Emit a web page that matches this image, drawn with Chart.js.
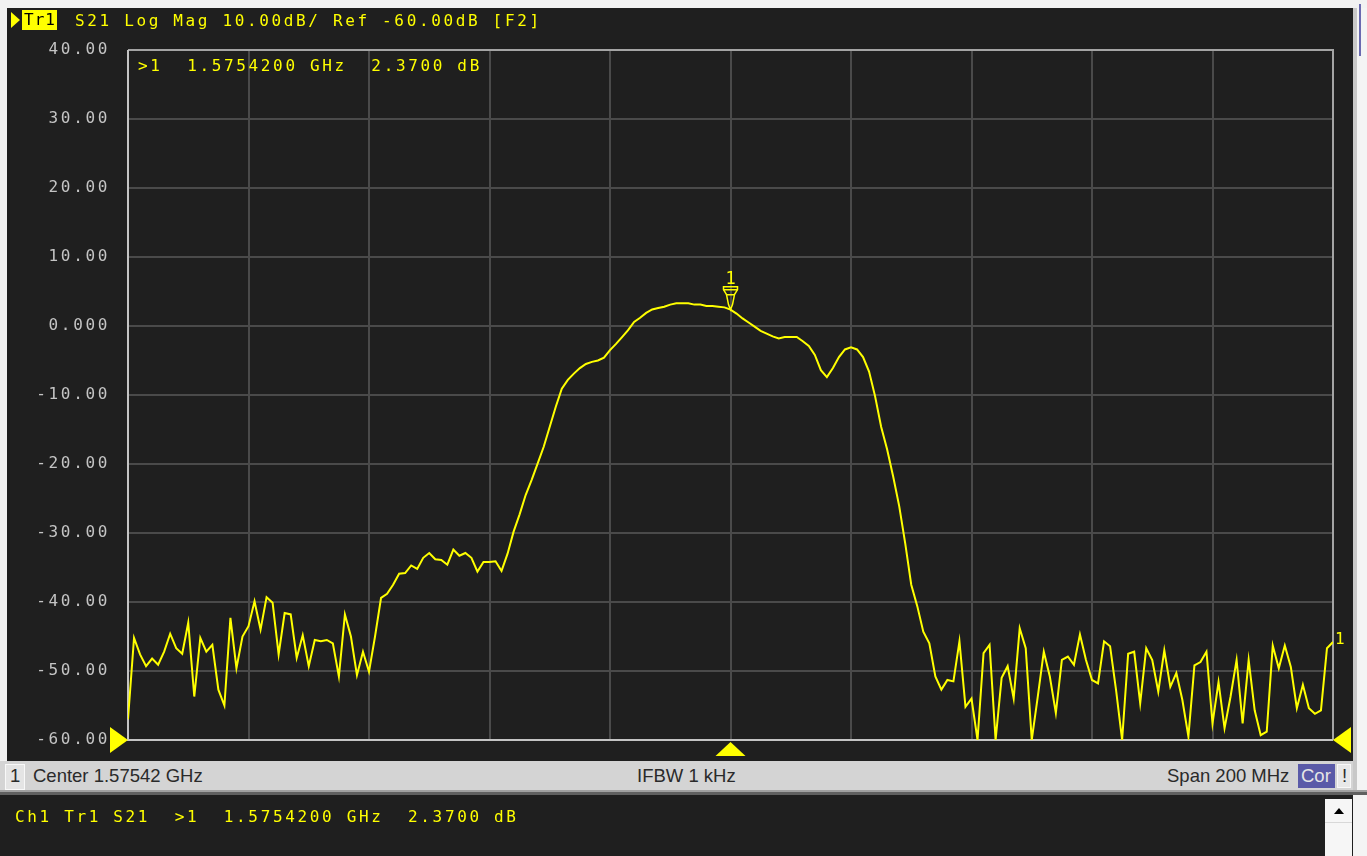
<!DOCTYPE html>
<html>
<head>
<meta charset="utf-8">
<script src="https://cdn.jsdelivr.net/npm/chart.js@4.4.1/dist/chart.umd.min.js"></script>
<style>
  html, body { margin: 0; padding: 0; }
  body { width: 1367px; height: 856px; overflow: hidden; background: #1f1f1f; position: relative; }
  #wrap { position: absolute; left: 0; top: 0; width: 1367px; height: 856px; }
  .mono { font-family: "DejaVu Sans Mono", monospace; font-size: 16px; letter-spacing: 2.65px; color: #ffff00; white-space: pre; position: absolute; line-height: 20px; }
  .sans { font-family: "Liberation Sans", Arial, sans-serif; font-size: 18.5px; color: #2a2a2a; white-space: pre; position: absolute; line-height: 20px; }
</style>
</head>
<body>
<div id="wrap"><canvas id="c" width="1367" height="856"></canvas></div>

<!-- window frame -->
<div style="position:absolute;left:0;top:0;width:1367px;height:8px;background:#f2f2f2;"></div>
<div style="position:absolute;left:0;top:0;width:7px;height:790px;background:#f2f2f2;"></div>
<div style="position:absolute;left:1353px;top:8px;width:14px;height:848px;background:#f4f4f4;"></div>
<div style="position:absolute;left:1353px;top:8px;width:4px;height:785px;background:#c8c8c8;"></div>
<div style="position:absolute;left:1359px;top:4px;width:2px;height:52px;background:#6a6ab0;"></div>

<!-- title bar -->
<div style="position:absolute;left:11px;top:12px;width:0;height:0;border-top:8px solid transparent;border-bottom:8px solid transparent;border-left:9px solid #ffff00;"></div>
<div class="mono" style="left:22px;top:10px;height:20px;background:#ffff00;color:#000;padding:0 1px 0 2px;letter-spacing:1px;">Tr1</div>
<div class="mono" style="left:75px;top:11px;">S21 Log Mag 10.00dB/ Ref -60.00dB [F2]</div>

<!-- marker readout -->
<div class="mono" style="left:138px;top:56px;">>1  1.5754200 GHz  2.3700 dB</div>

<!-- status bar -->
<div style="position:absolute;left:0;top:761px;width:1353px;height:30px;background:#d4d4d4;"></div>
<div style="position:absolute;left:0;top:790px;width:1367px;height:2px;background:#a0a0a0;"></div>
<div style="position:absolute;left:0;top:792px;width:1367px;height:3px;background:#606060;"></div>
<div style="position:absolute;left:5px;top:764px;width:18px;height:24px;background:#e4e4e4;border:1px solid #f8f8f8;"></div>
<div class="sans" style="left:10px;top:766px;">1</div>
<div class="sans" style="left:33px;top:766px;">Center 1.57542 GHz</div>
<div class="sans" style="left:637px;top:766px;">IFBW 1 kHz</div>
<div class="sans" style="left:1167px;top:766px;">Span 200 MHz</div>
<div style="position:absolute;left:1298px;top:764px;width:37px;height:24px;background:#5a5aa8;"></div>
<div class="sans" style="left:1301px;top:766px;color:#e6e6e6;">Cor</div>
<div style="position:absolute;left:1337px;top:764px;width:14px;height:24px;background:#e8e8e8;border:1px solid #f8f8f8;box-sizing:border-box;"></div>
<div class="sans" style="left:1342px;top:766px;">!</div>

<!-- bottom panel -->
<div class="mono" style="left:15px;top:807px;">Ch1 Tr1 S21  >1  1.5754200 GHz  2.3700 dB</div>
<div style="position:absolute;left:1325px;top:799px;width:27px;height:57px;background:#f6f6f6;"></div>
<div style="position:absolute;left:1325px;top:822px;width:27px;height:1px;background:#d8d8d8;"></div>
<div style="position:absolute;left:1334px;top:808px;width:0;height:0;border-left:5px solid transparent;border-right:5px solid transparent;border-bottom:6px solid #000;"></div>

<script>
// ---- sweep definition ----
const startMHz = 1475.42;
const stopMHz = 1675.42;
const pointCount = 201;

// ---- tick labels ----
const yTickValues = [40, 30, 20, 10, 0, -10, -20, -30, -40, -50, -60];
const yTickLabels = ["40.00", "30.00", "20.00", "10.00", "0.000", "-10.00", "-20.00", "-30.00", "-40.00", "-50.00", "-60.00"];

// ---- S21 trace (dB) ----
const s21dB = [
  -57.0, -45.2, -47.6, -49.3, -48.2, -49.1, -47.2, -44.6, -46.7, -47.5,
  -43.0, -53.7, -45.2, -47.2, -46.2, -52.7, -55.0, -42.3, -49.6, -45.0,
  -43.5, -39.9, -44.0, -39.3, -40.1, -47.6, -41.6, -41.8, -48.1, -44.8,
  -49.3, -45.5, -45.7, -45.5, -46.0, -50.8, -41.8, -45.0, -50.6, -47.2,
  -50.1, -45.0, -39.4, -38.8, -37.5, -35.9, -35.8, -34.7, -35.2, -33.6,
  -32.9, -33.8, -33.9, -34.6, -32.4, -33.3, -32.9, -33.6, -35.6, -34.2,
  -34.2, -34.1, -35.5, -33.0, -29.8, -27.3, -24.5, -22.3, -19.9, -17.5,
  -14.6, -11.7, -9.1, -7.8, -6.9, -6.1, -5.5, -5.2, -5.0, -4.6,
  -3.5, -2.6, -1.6, -0.6, 0.6, 1.2, 1.9, 2.4, 2.6, 2.8,
  3.1, 3.3, 3.3, 3.3, 3.1, 3.1, 2.9, 2.9, 2.8, 2.7,
  2.37, 1.8, 1.1, 0.5, -0.1, -0.7, -1.1, -1.5, -1.8, -1.6,
  -1.6, -1.6, -2.2, -2.9, -4.2, -6.4, -7.4, -6.1, -4.5, -3.4,
  -3.1, -3.4, -4.5, -6.6, -10.2, -14.6, -17.9, -21.8, -26.1, -31.5,
  -37.5, -40.6, -44.3, -46.0, -50.8, -52.7, -51.3, -51.5, -45.7, -55.2,
  -54.0, -60.0, -47.4, -46.2, -60.0, -51.0, -49.3, -54.0, -43.8, -46.7,
  -60.0, -53.7, -47.2, -50.8, -56.1, -48.4, -47.9, -49.1, -44.7, -48.4,
  -51.3, -51.8, -45.7, -46.4, -52.8, -60.0, -47.5, -47.2, -54.7, -46.7,
  -48.4, -53.0, -47.0, -52.3, -50.3, -54.2, -59.5, -49.2, -48.7, -47.2,
  -57.6, -51.6, -58.3, -53.7, -48.4, -57.6, -48.4, -55.7, -59.3, -58.8,
  -46.3, -49.6, -46.3, -49.4, -55.4, -52.0, -55.4, -56.2, -55.7, -46.7,
  -45.8
];

// ---- marker ----
const markerFreqMHz = 1575.42;
const markerValue = 2.37;

const step = (stopMHz - startMHz) / (pointCount - 1);
const tracePoints = s21dB.map((v, i) => ({ x: startMHz + i * step, y: v }));

const YEL = '#ffff00';

const vnaPlugin = {
  id: 'vna',
  beforeDraw(chart) {
    chart.ctx.letterSpacing = '2.65px';
  },
  beforeDatasetsDraw(chart) {
    const { ctx, chartArea: a } = chart;
    ctx.save();
    ctx.letterSpacing = '0px';
    ctx.lineWidth = 2;
    ctx.strokeStyle = '#a4a4a4';
    ctx.beginPath();
    ctx.moveTo(a.left, a.top); ctx.lineTo(a.right, a.top); ctx.lineTo(a.right, a.bottom);
    ctx.stroke();
    ctx.strokeStyle = '#c4c4c4';
    ctx.beginPath();
    ctx.moveTo(a.left, a.top); ctx.lineTo(a.left, a.bottom); ctx.lineTo(a.right, a.bottom);
    ctx.stroke();
    ctx.restore();
  },
  afterDatasetsDraw(chart) {
    const { ctx, chartArea: a, scales: { x, y } } = chart;
    ctx.save();
    ctx.letterSpacing = '0px';
    ctx.fillStyle = YEL;
    ctx.strokeStyle = YEL;
    // reference level triangles
    const ry = y.getPixelForValue(-60);
    ctx.beginPath();
    ctx.moveTo(a.left, ry); ctx.lineTo(a.left - 18, ry - 13); ctx.lineTo(a.left - 18, ry + 13); ctx.closePath(); ctx.fill();
    ctx.beginPath();
    ctx.moveTo(a.right, ry); ctx.lineTo(a.right + 18, ry - 13); ctx.lineTo(a.right + 18, ry + 13); ctx.closePath(); ctx.fill();
    // marker position triangle at bottom
    const mx = x.getPixelForValue(markerFreqMHz);
    ctx.beginPath();
    ctx.moveTo(mx, a.bottom + 2); ctx.lineTo(mx - 15, a.bottom + 16); ctx.lineTo(mx + 15, a.bottom + 16); ctx.closePath(); ctx.fill();
    // marker symbol on trace
    const my = y.getPixelForValue(markerValue);
    ctx.lineWidth = 1.5;
    ctx.beginPath();
    ctx.moveTo(mx - 7, my - 23); ctx.lineTo(mx + 7, my - 23); ctx.lineTo(mx + 7, my - 20);
    ctx.lineTo(mx + 4, my - 15); ctx.lineTo(mx + 2, my - 5); ctx.lineTo(mx, my);
    ctx.lineTo(mx - 2, my - 5); ctx.lineTo(mx - 4, my - 15); ctx.lineTo(mx - 7, my - 20); ctx.closePath();
    ctx.stroke();
    ctx.beginPath();
    ctx.moveTo(mx - 7, my - 20); ctx.lineTo(mx + 7, my - 20);
    ctx.moveTo(mx - 4, my - 15); ctx.lineTo(mx + 4, my - 15);
    ctx.stroke();
    ctx.font = '17px "DejaVu Sans Mono"';
    ctx.textAlign = 'center';
    ctx.textBaseline = 'alphabetic';
    ctx.fillText('1', mx, my - 26);
    // trace number at trace end
    const last = tracePoints[tracePoints.length - 1];
    ctx.font = '16px "DejaVu Sans Mono"';
    ctx.textAlign = 'left';
    ctx.textBaseline = 'middle';
    ctx.fillText('1', x.getPixelForValue(last.x) + 2, y.getPixelForValue(last.y) - 2);
    ctx.restore();
  }
};

new Chart(document.getElementById('c'), {
  type: 'line',
  data: {
    datasets: [{
      data: tracePoints,
      borderColor: YEL,
      borderWidth: 2,
      pointRadius: 0,
      tension: 0,
      fill: false
    }]
  },
  options: {
    responsive: false,
    animation: false,
    devicePixelRatio: 1,
    layout: { padding: { left: 0, right: 34, top: 50, bottom: 116 } },
    plugins: { legend: { display: false }, tooltip: { enabled: false } },
    scales: {
      x: {
        type: 'linear',
        min: startMHz,
        max: stopMHz,
        ticks: { display: false, stepSize: 20 },
        afterBuildTicks(s) {
          s.ticks = [];
          for (let k = 0; k <= 10; k++) s.ticks.push({ value: startMHz + k * 20 });
        },
        grid: { color: '#4a4a4a', lineWidth: 2, drawTicks: false },
        border: { display: false },
        afterFit(s) { s.height = 0; }
      },
      y: {
        min: -60,
        max: 40,
        afterBuildTicks(s) { s.ticks = yTickValues.map(v => ({ value: v })); },
        ticks: {
          color: '#c4c4c4',
          font: { family: '"DejaVu Sans Mono"', size: 16 },
          padding: 18,
          callback: (v) => yTickLabels[yTickValues.indexOf(v)]
        },
        grid: { color: '#4a4a4a', lineWidth: 2, drawTicks: false },
        border: { display: false },
        afterFit(s) { s.width = 128; }
      }
    }
  },
  plugins: [vnaPlugin]
});
</script>
</body>
</html>
